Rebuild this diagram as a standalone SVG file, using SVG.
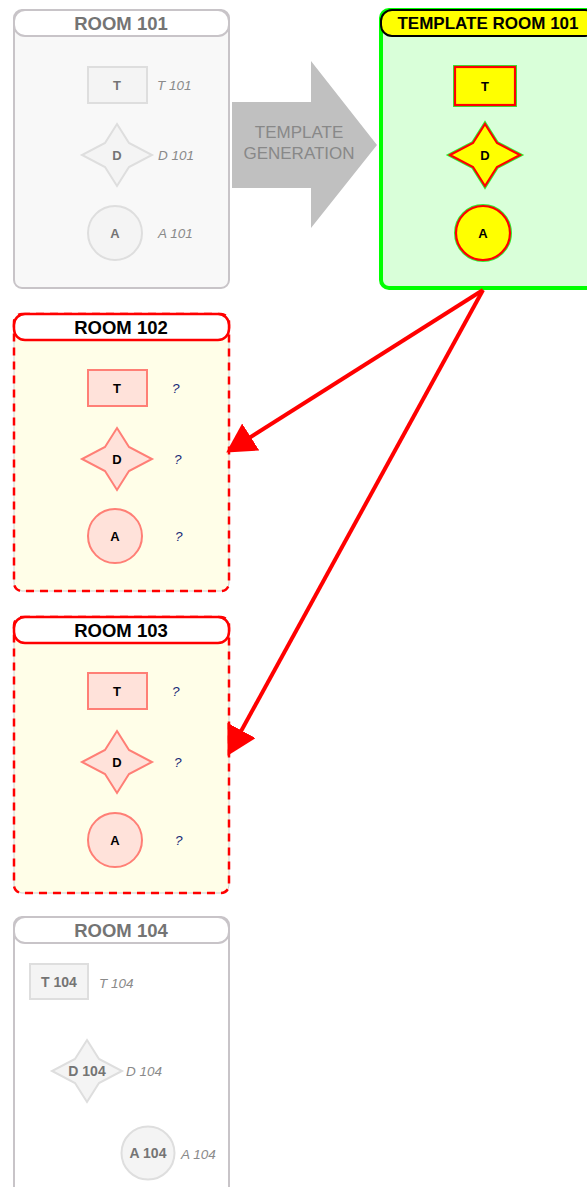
<svg xmlns="http://www.w3.org/2000/svg" width="587" height="1187" viewBox="0 0 587 1187">
<style>
text{font-family:"Liberation Sans",Arial,sans-serif;text-anchor:middle}
.title{font-size:18.5px;font-weight:bold}
.sm{font-size:13px;font-weight:bold}
.lbl{font-size:13.5px;font-style:italic;fill:#8a8a8a;text-anchor:start}
.q{font-size:13.5px;font-style:italic;fill:#1c2b78;text-anchor:start}
.gbox{fill:#f8f8f8;stroke:#c8c4c8;stroke-width:2}
.ghead{fill:#fff;stroke:#c8c4c8;stroke-width:2}
.gshape{fill:#f4f4f4;stroke:#dedede;stroke-width:2}
.gtxt{fill:#747474}
.rbox{fill:#fffee8;stroke:#d0d0d0;stroke-width:1}
.rdash{fill:none;stroke:#ff0000;stroke-width:2.5;stroke-dasharray:8 6}
.rhead{fill:#fff;stroke:#ff0000;stroke-width:2.5}
.rshape{fill:#ffe2da;stroke:#ff7f76;stroke-width:2}
.yshape{fill:#ffff00;stroke:#ff0000;stroke-width:2.2}
.yhalo{fill:none;stroke:#33ee33;stroke-width:4}
.conn{stroke:#ff0000;stroke-width:4;fill:none}
</style>
<defs>
<marker id="ah" markerUnits="userSpaceOnUse" markerWidth="30" markerHeight="34" refX="18" refY="16" orient="auto">
<path d="M0,0 L29,16 L0,32 z" fill="#ff0000"/>
</marker>
<path id="star" d="M0,-31 L12,-12 L35,0 L12,12 L0,31 L-12,12 L-35,0 L-12,-12 Z"/>
</defs>

<g id="arrow-template-generation">
<polygon points="232,102 311,102 311,61 377,145 311,228 311,188 232,188" fill="#c0c0c0"/>
<text x="299" y="138" style="font-size:17px;fill:#888">TEMPLATE</text>
<text x="299" y="159" style="font-size:17px;fill:#888">GENERATION</text>
</g>

<g id="room101">
<rect class="gbox" x="14" y="10" width="215" height="278" rx="8"/>
<rect class="ghead" x="14" y="10" width="215" height="26" rx="11"/>
<text class="title gtxt" x="121" y="30">ROOM 101</text>
<rect class="gshape" x="88" y="67" width="59" height="36"/>
<text class="sm gtxt" x="117" y="90">T</text>
<text class="lbl" x="157" y="90">T 101</text>
<use href="#star" class="gshape" transform="translate(117,155)"/>
<text class="sm gtxt" x="117" y="160">D</text>
<text class="lbl" x="158" y="160">D 101</text>
<circle class="gshape" cx="115" cy="233" r="27"/>
<text class="sm gtxt" x="115" y="238">A</text>
<text class="lbl" x="158" y="238">A 101</text>
</g>

<g id="template-room101">
<rect x="381" y="10" width="215" height="278" rx="8" fill="#d9ffd9" stroke="#00ff00" stroke-width="4"/>
<rect x="381" y="10" width="215" height="26" rx="11" fill="#ffff00" stroke="#000" stroke-width="2"/>
<text x="488" y="29" style="font-size:17px;font-weight:bold">TEMPLATE ROOM 101</text>
<rect class="yhalo" x="455" y="67" width="60" height="38"/>
<rect class="yshape" x="455" y="67" width="60" height="38"/>
<text class="sm" x="485" y="91">T</text>
<use href="#star" class="yhalo" transform="translate(485,155)"/>
<use href="#star" class="yshape" transform="translate(485,155)"/>
<text class="sm" x="485" y="160">D</text>
<circle class="yhalo" cx="483" cy="233" r="27"/>
<circle class="yshape" cx="483" cy="233" r="27"/>
<text class="sm" x="483" y="238">A</text>
</g>

<g id="room102">
<rect class="rbox" x="14" y="314" width="215" height="277" rx="8"/>
<rect class="rdash" x="14" y="314" width="215" height="277" rx="8"/>
<rect class="rhead" x="14" y="314" width="215" height="26" rx="11"/>
<text class="title" x="121" y="334">ROOM 102</text>
<rect class="rshape" x="88" y="370" width="59" height="36"/>
<text class="sm" x="117" y="393">T</text>
<text class="q" x="172" y="393">?</text>
<use href="#star" class="rshape" transform="translate(117,459)"/>
<text class="sm" x="117" y="464">D</text>
<text class="q" x="174" y="464">?</text>
<circle class="rshape" cx="115" cy="536" r="27"/>
<text class="sm" x="115" y="541">A</text>
<text class="q" x="175" y="541">?</text>
</g>

<g id="room103">
<rect class="rbox" x="14" y="617" width="215" height="276" rx="8"/>
<rect class="rdash" x="14" y="617" width="215" height="276" rx="8"/>
<rect class="rhead" x="14" y="617" width="215" height="26" rx="11"/>
<text class="title" x="121" y="637">ROOM 103</text>
<rect class="rshape" x="88" y="673" width="59" height="36"/>
<text class="sm" x="117" y="696">T</text>
<text class="q" x="172" y="696">?</text>
<use href="#star" class="rshape" transform="translate(117,762)"/>
<text class="sm" x="117" y="767">D</text>
<text class="q" x="174" y="767">?</text>
<circle class="rshape" cx="115" cy="840" r="27"/>
<text class="sm" x="115" y="845">A</text>
<text class="q" x="175" y="845">?</text>
</g>

<g id="room104">
<rect x="14" y="917" width="215" height="300" rx="8" fill="#fff" stroke="#c8c4c8" stroke-width="2"/>
<rect class="ghead" x="14" y="917" width="215" height="26" rx="11"/>
<text class="title gtxt" x="121" y="937">ROOM 104</text>
<rect class="gshape" x="30" y="964" width="58" height="35"/>
<text class="sm gtxt" x="59" y="987" style="font-size:14px">T 104</text>
<text class="lbl" x="99" y="988">T 104</text>
<use href="#star" class="gshape" transform="translate(87,1071)"/>
<text class="sm gtxt" x="87" y="1076" style="font-size:14px">D 104</text>
<text class="lbl" x="126" y="1076">D 104</text>
<circle class="gshape" cx="148" cy="1153" r="26.5"/>
<text class="sm gtxt" x="148" y="1158" style="font-size:14px">A 104</text>
<text class="lbl" x="181" y="1159">A 104</text>
</g>

<g id="connectors">
<line class="conn" x1="483" y1="290" x2="235.5" y2="446.6" marker-end="url(#ah)"/>
<line class="conn" x1="483" y1="290" x2="232.8" y2="746.2" marker-end="url(#ah)"/>
</g>
</svg>
